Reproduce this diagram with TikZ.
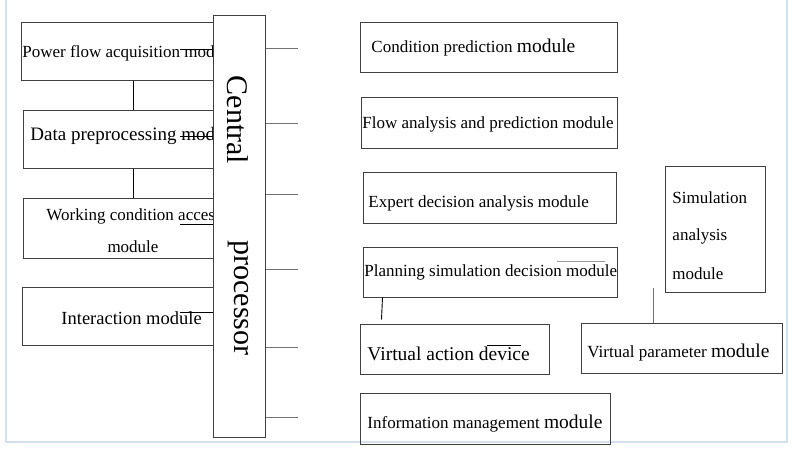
\documentclass[tikz,border=0pt]{standalone}
\usepackage{fontspec}
\setmainfont{Liberation Serif}
\definecolor{framecol}{RGB}{212,224,238}
\begin{document}
\begin{tikzpicture}[x=1pt, y=-1pt, line width=0.9pt,
    main/.style = {draw=black!75, line width=1pt, inner sep=0pt},
    txt/.style = {inner sep=0pt, anchor=west, font=\fontsize{17}{20}\selectfont},
    big/.style = {inner sep=0pt, rotate=-90, font=\fontsize{30}{36}\selectfont},
    stub/.style = {draw=black!55, line width=1pt}]
    \useasboundingbox (0,0) rectangle (794,454);
    \draw [draw=framecol, line width=1.8pt] (6,0) -- (6,442) -- (787,442) -- (787,0);

    % left column
    \node[main, minimum width=192, minimum height=58] (pf) at (117,52) {};
    \node[main, minimum width=190, minimum height=58] (dp) at (118,140) {};
    \node[main, minimum width=190, minimum height=59] (wc) at (118,228.5) {};
    \node[main, minimum width=191, minimum height=58] (im) at (117.5,316) {};

    \node[txt] (pft) at (22,53) {Power flow acquisition module};
    \node[txt, font=\fontsize{19}{22}\selectfont] (dpt) at (30,136) {Data preprocessing module};
    \node[txt] (wct) at (46,216) {Working condition access};
    \node[txt, anchor=center] (wcu) at (133,247) {module};
    \node[txt, font=\fontsize{18.5}{22}\selectfont] (imt) at (61,318) {Interaction module};

    % central processor
    \node[main, fill=white, minimum width=52, minimum height=421] (cp) at (239,226.5) {};
    \node[big] (cpa) at (238,120) {Central};
    \node[big] (cpb) at (238,298) {processor};

    \coordinate (vx) at (133,0);
    \draw [-] (pf.south -| vx) -> (dp.north -| vx);
    \draw [-] (dp.south -| vx) -> (wc.north -| vx);

    \coordinate (pfo) at (180,49);
    \coordinate (dpo) at (180,136);
    \coordinate (wco) at (180,224);
    \coordinate (imo) at (180,312);
    \draw [-] (pfo) -> (pfo -| cp.west);
    \draw [-] (dpo) -> (dpo -| cp.west);
    \draw [-] (wco) -> (wco -| cp.west);
    \draw [-] (imo) -> (imo -| cp.west);

    \foreach \y [count=\i] in {49,124,195,269,347,417} {
        \coordinate (s\i) at (298,\y);
        \draw [stub] (cp.east |- s\i) -> (s\i);
    }

    % right column
    \node[main, minimum width=257, minimum height=50] (cpm) at (488.5,48) {};
    \node[main, minimum width=256, minimum height=51] (fap) at (489,123.5) {};
    \node[main, minimum width=253, minimum height=51] (eda) at (489.5,198.5) {};
    \node[main, minimum width=254, minimum height=50] (psd) at (490,272) {};
    \node[main, minimum width=189, minimum height=50] (vad) at (454.5,349) {};
    \node[main, minimum width=250, minimum height=51] (imm) at (485,418.5) {};
    \node[main, minimum width=201, minimum height=50] (vpm) at (681.5,348) {};
    \node[main, minimum width=100, minimum height=125] (sam) at (715,229.5) {};

    \node[txt] (cpmt) at (371,48) {Condition prediction {\fontsize{19.5}{22}\selectfont module}};
    \node[txt] (fapt) at (362,124) {Flow analysis and prediction module};
    \node[txt] (edat) at (368,203) {Expert decision analysis module};
    \node[txt] (psdt) at (364,272) {Planning simulation decision module};
    \node[txt, font=\fontsize{19.5}{22}\selectfont] (vadt) at (367,354) {Virtual action device};
    \node[txt] (immt) at (367,424) {Information management {\fontsize{19.5}{22}\selectfont module}};
    \node[txt] (vpmt) at (587,353) {Virtual parameter {\fontsize{19.5}{22}\selectfont module}};
    \node[txt] (sam1) at (672,198) {Simulation};
    \node[txt] (sam2) at (672,236) {analysis};
    \node[txt] (sam3) at (672,274) {module};

    \draw [-] ([xshift=20]psd.south west) -> ++(-1,22);
    \draw [stub] ([xshift=73]vpm.north west) -> ++(0,-35);

    \draw [stub, draw=black!40] (557,261) -> (605,261);
    \draw [-] (487,345) -> (521,345);

\end{tikzpicture}
\end{document}
